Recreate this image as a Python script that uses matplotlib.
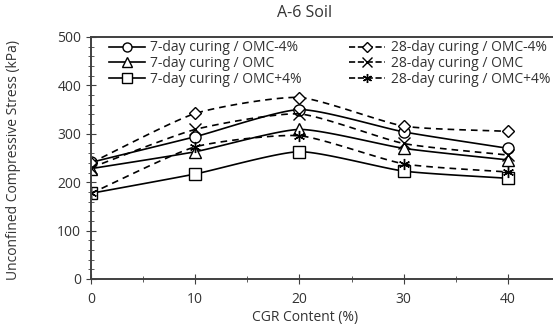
import numpy as np
import matplotlib

matplotlib.use("Agg")
matplotlib.rcParams["font.family"] = ["Open Sans", "DejaVu Sans"]

import matplotlib.pyplot as plt
from matplotlib.ticker import MultipleLocator

cgr = [0, 10, 20, 30, 40]

d7_omc_m4 = [241, 294, 350, 304, 270]
d7_omc = [228, 263, 309, 270, 246]
d7_omc_p4 = [177, 217, 263, 223, 208]
d28_omc_m4 = [240, 342, 375, 316, 305]
d28_omc = [230, 309, 341, 280, 256]
d28_omc_p4 = [177, 273, 296, 238, 221]

series = [
    ("7-day curing / OMC-4%", d7_omc_m4, "o", "-"),
    ("7-day curing / OMC", d7_omc, "^", "-"),
    ("7-day curing / OMC+4%", d7_omc_p4, "s", "-"),
    ("28-day curing / OMC-4%", d28_omc_m4, "D", "--"),
    ("28-day curing / OMC", d28_omc, "x", "--"),
    ("28-day curing / OMC+4%", d28_omc_p4, (6, 2, 0), "--"),
]


def smooth(x, y, n=30):
    # catmull-rom through the points, like excel's smoothed line
    x = np.asarray(x, float)
    y = np.asarray(y, float)
    px = np.concatenate([[2 * x[0] - x[1]], x, [2 * x[-1] - x[-2]]])
    py = np.concatenate([[2 * y[0] - y[1]], y, [2 * y[-1] - y[-2]]])
    xs, ys = [], []
    t = np.linspace(0, 1, n)
    for i in range(1, len(px) - 2):
        p0, p1, p2, p3 = (np.array([px[j], py[j]]) for j in range(i - 1, i + 3))
        m1 = (p2 - p0) / 2 * 0.6
        m2 = (p3 - p1) / 2 * 0.6
        h00 = 2 * t**3 - 3 * t**2 + 1
        h10 = t**3 - 2 * t**2 + t
        h01 = -2 * t**3 + 3 * t**2
        h11 = t**3 - t**2
        pts = np.outer(h00, p1) + np.outer(h10, m1) + np.outer(h01, p2) + np.outer(h11, m2)
        xs.extend(pts[:, 0])
        ys.extend(pts[:, 1])
    return np.array(xs), np.array(ys)


fig = plt.figure(figsize=(5.53, 3.31), dpi=100)
ax = fig.add_axes([91 / 553, 52 / 331, (560 - 91) / 553, (279 - 37) / 331])

for label, vals, marker, ls in series:
    sx, sy = smooth(cgr, vals)
    ax.plot(sx, sy, color="black", lw=1.2, ls=ls, dashes=(4, 3) if ls == "--" else (None, None))
    ax.plot(cgr, vals, ls="none", marker=marker, ms=8 if marker != "D" else 6,
            mfc="white", mec="black", mew=1.0)
    ax.plot([], [], color="black", lw=1.2, ls=ls, marker=marker,
            ms=6.5 if marker != "D" else 5, mfc="white", mec="black", mew=1.0, label=label)

ax.set_xlim(0, 45)
ax.set_ylim(0, 500)
ax.xaxis.set_major_locator(MultipleLocator(10))
ax.xaxis.set_minor_locator(MultipleLocator(5))
ax.yaxis.set_major_locator(MultipleLocator(100))
ax.yaxis.set_minor_locator(MultipleLocator(20))
ax.tick_params(which="both", direction="inout", colors="#404040", labelcolor="#333333",
               labelsize=10)
ax.tick_params(which="major", length=7)
ax.tick_params(which="minor", length=5)
ax.tick_params(axis="x", pad=6)

for s in ["left", "bottom", "top"]:
    ax.spines[s].set_color("#404040")
    ax.spines[s].set_linewidth(1.4)
ax.spines["right"].set_visible(False)

fig.text(305 / 553, 1 - 13 / 331, "A-6 Soil", ha="center", va="center", fontsize=11.5,
         color="#333333")
fig.text(305 / 553, 1 - 318 / 331, "CGR Content (%)", ha="center", va="center",
         fontsize=10, color="#333333")
fig.text(14 / 553, 1 - 160 / 331, "Unconfined Compressive Stress (kPa)", ha="center",
         va="center", rotation=90, fontsize=10, color="#333333")

leg = ax.legend(ncol=2, frameon=False, loc="upper left", bbox_to_anchor=(0.02, 1.02),
                fontsize=10, handlelength=2.6, handletextpad=0.4, columnspacing=3.4,
                labelspacing=0.05, borderaxespad=0.2)
for t in leg.get_texts():
    t.set_color("#333333")

fig.savefig("out.png", dpi=100)
